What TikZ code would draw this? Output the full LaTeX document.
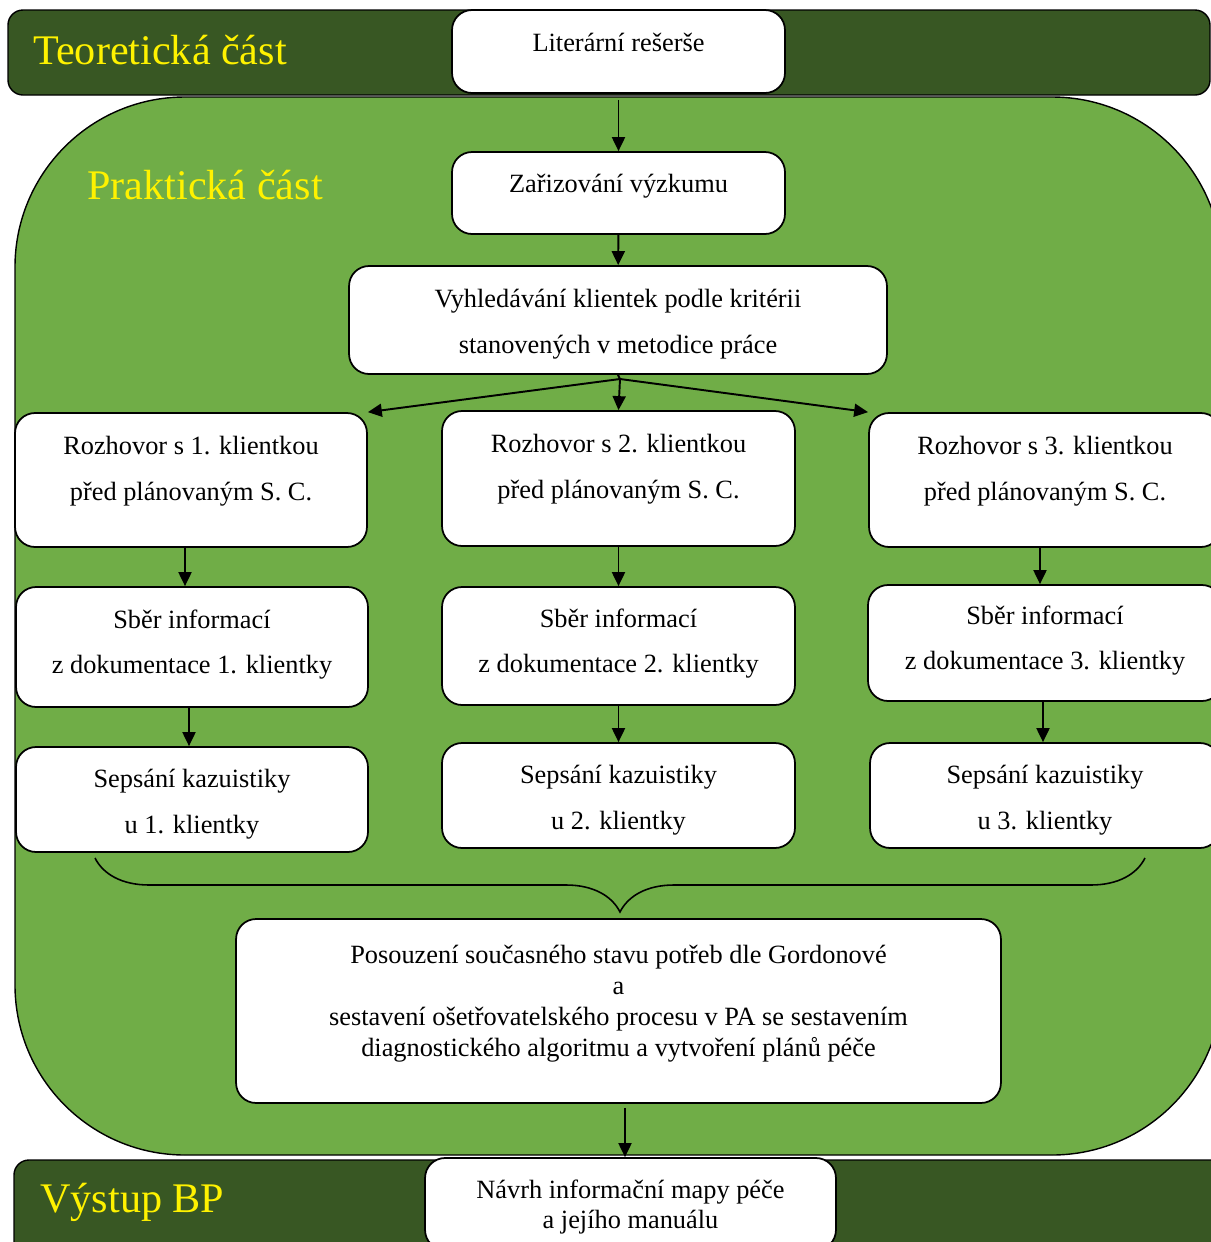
\documentclass[tikz,border=0pt]{standalone}
\usepackage{fontspec}
\setmainfont{Liberation Serif}
\usetikzlibrary{arrows.meta,positioning,decorations.pathreplacing}

\definecolor{darkgreen}{HTML}{385723}
\definecolor{lightgreen}{HTML}{70AD47}

\tikzset{
  box/.style={draw,line width=1pt,fill=white,rounded corners=0.4cm,align=center,
    inner sep=0pt,font=\fontsize{15}{26}\selectfont},
  lift/.style={text depth=#1},
  drop/.style={text height=#1},
  bar/.style={draw,line width=0.8pt,fill=darkgreen,rounded corners=0.3cm},
  part/.style={text=yellow,font=\fontsize{24}{28}\selectfont,anchor=west,inner sep=0pt},
  arrow/.style={line width=1.1pt,-{Triangle[length=0.28cm,width=0.26cm]}}
}

\begin{document}
\begin{tikzpicture}[x=0.02cm,y=-0.02cm]
  \path[use as bounding box,clip] (0,0) rectangle (1211,1242);

  % pozadi
  \draw[bar] (8,10) rectangle (1210,95);
  \draw[line width=0.8pt,fill=lightgreen,rounded corners=3.4cm] (15,97) rectangle (1222,1155);
  \draw[bar] (14,1160) rectangle (1230,1260);

  \node[part] (teorie)  at (33,50)   {Teoretická část};
  \node[part] (praxe)   at (87,185)  {Praktická část};
  \node[part] (vystup)  at (40,1202) {Výstup BP};

  % hlavni vetev
  \node[box,lift=11pt,minimum width=6.66cm,minimum height=1.66cm] (lit) at (618.5,51.5) {Literární rešerše};
  \node[box,lift=11.3pt,minimum width=6.66cm,minimum height=1.64cm] (zar) at (618.5,193) {Zařizování výzkumu};
  \node[box,drop=41pt,minimum width=10.76cm,minimum height=2.16cm] (search) at (618,320)
    {Vyhledávání klientek podle kritérii\\stanovených v metodice práce};
  \coordinate (fan) at (620,379);

  % tri klientky
  \node[box,lift=13.5pt,minimum width=7.04cm,minimum height=2.68cm] (r1a) at (191,480)
    {Rozhovor s 1. klientkou\\před plánovaným S. C.};
  \node[box,lift=13.5pt,minimum width=7.06cm,minimum height=2.7cm]  (r1b) at (618.5,478.5)
    {Rozhovor s 2. klientkou\\před plánovaným S. C.};
  \node[box,lift=13.5pt,minimum width=7.04cm,minimum height=2.68cm] (r1c) at (1045,480)
    {Rozhovor s 3. klientkou\\před plánovaným S. C.};

  \node[box,lift=6pt,minimum width=7.04cm,minimum height=2.4cm]  (r2a) at (192,647)
    {Sběr informací\\z dokumentace 1. klientky};
  \node[box,lift=6pt,minimum width=7.06cm,minimum height=2.36cm] (r2b) at (618.5,646)
    {Sběr informací\\z dokumentace 2. klientky};
  \node[box,lift=6pt,minimum width=7.08cm,minimum height=2.32cm] (r2c) at (1045,643)
    {Sběr informací\\z dokumentace 3. klientky};

  \node[box,drop=42pt,minimum width=7.04cm,minimum height=2.1cm] (r3a) at (192,799.5)
    {Sepsání kazuistiky\\u 1. klientky};
  \node[box,drop=42pt,minimum width=7.06cm,minimum height=2.1cm] (r3b) at (618.5,795.5)
    {Sepsání kazuistiky\\u 2. klientky};
  \node[box,drop=42pt,minimum width=7.0cm,minimum height=2.1cm]  (r3c) at (1045,795.5)
    {Sepsání kazuistiky\\u 3. klientky};

  % zaver
  \coordinate (braceL) at (95,858);
  \coordinate (braceR) at (1145,858);
  \draw[line width=0.9pt,decorate,decoration={brace,mirror,amplitude=1.08cm}] (braceL) -- (braceR);

  \node[box,lift=11.3pt,minimum width=15.3cm,minimum height=3.68cm,font=\fontsize{15}{17.6}\selectfont] (assess) at (618.5,1011)
    {Posouzení současného stavu potřeb dle Gordonové\\a\\sestavení ošetřovatelského procesu v PA se sestavením\\diagnostického algoritmu a vytvoření plánů péče};
  \node[box,drop=30.7pt,minimum width=8.22cm,minimum height=1.84cm,font=\fontsize{15}{17}\selectfont] (design) at (630.5,1204)
    {Návrh informační mapy péče\\a jejího manuálu};

  \path (assess.south) ++(6.5,4) coordinate (outS);
  \path (lit.south) ++(0,6) coordinate (litS);

  \path[arrow]
  (litS)                 edge (zar)
  (zar)                  edge (search)
  (fan)                  edge (r1a.north east)
  (fan)                  edge (r1b.north)
  (fan)                  edge (r1c.north west)
  (r1a.south)  ++(-6,0)  edge (r2a.north -| {185,0})
  (r1b.south)            edge (r2b.north)
  (r1c.south)  ++(-5,0)  edge (r2c.north -| {1040,0})
  (r2a.south)  ++(-3,0)  edge (r3a.north -| {189,0})
  (r2b.south)            edge (r3b.north)
  (r2c.south)  ++(-2,0)  edge (r3c.north -| {1043,0})
  (outS)                 edge (outS |- design.north);
  \draw[line width=1.1pt] (search.south) -- (fan);
\end{tikzpicture}
\end{document}
